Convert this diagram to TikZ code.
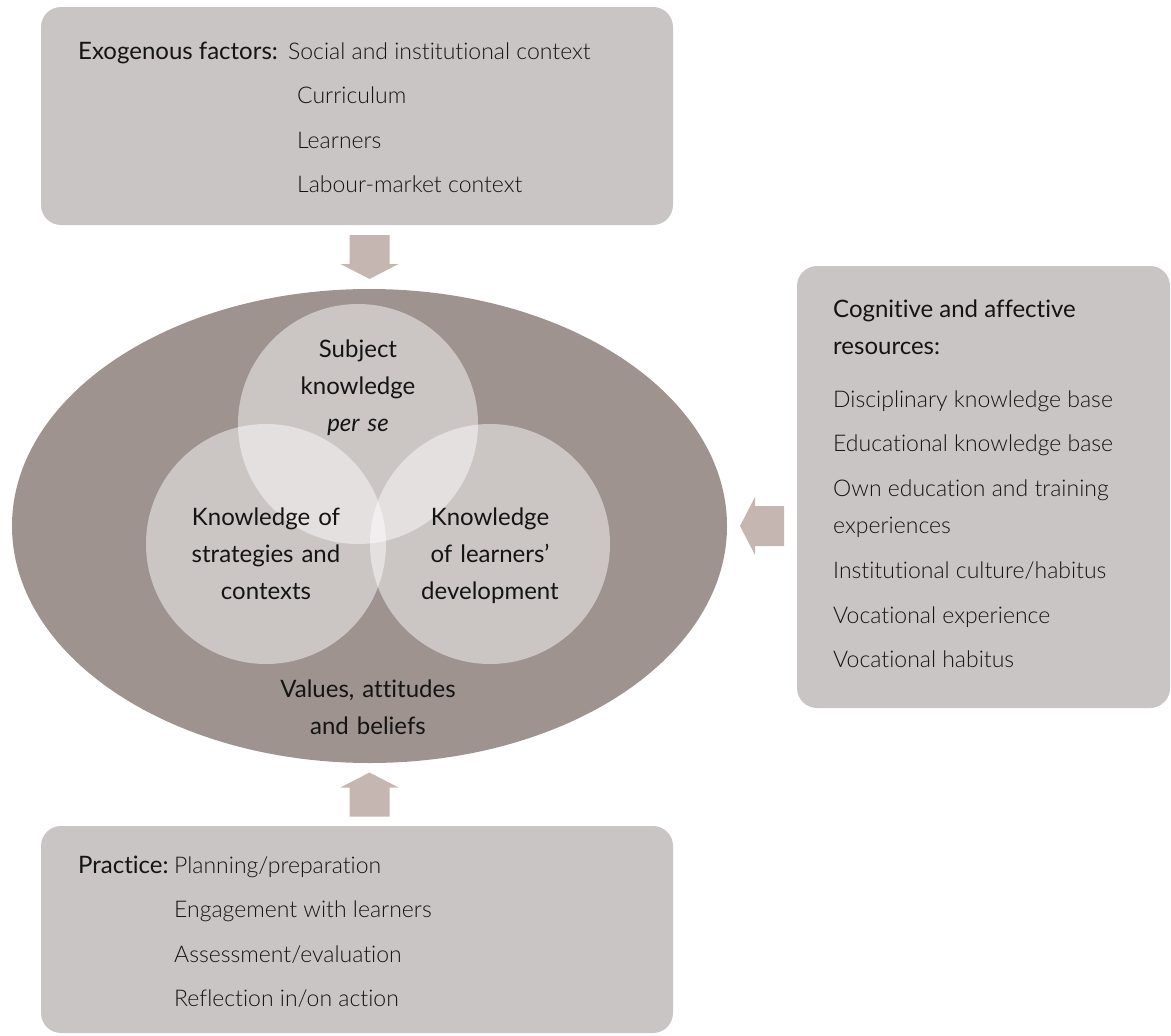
\documentclass[tikz,border=0pt]{standalone}
\usepackage{fontspec}
\setmainfont{Lato}[Ligatures=NoCommon]
\newfontfamily\lightfont{Lato Light}[Ligatures=NoCommon]
\usetikzlibrary{shapes.geometric,positioning,calc}

\definecolor{boxgray}{RGB}{201,197,196}
\definecolor{ellgray}{RGB}{158,147,143}
\definecolor{arrowpink}{RGB}{197,182,178}
\definecolor{txtblack}{RGB}{20,20,20}

\begin{document}
\begin{tikzpicture}[
            x=1pt, y=-1pt,
            panel/.style={fill=boxgray, rounded corners=20pt, inner sep=0pt},
            outer/.style={ellipse, fill=ellgray, minimum width=715pt, minimum height=474pt, inner sep=0pt},
            bubble/.style={circle, fill=white, fill opacity=0.47, minimum size=240pt, inner sep=0pt},
            headtext/.style={font=\fontsize{24}{37}\selectfont, text=txtblack, inner sep=0pt},
            itemtext/.style={font=\lightfont\fontsize{23}{37}\selectfont, text=txtblack, inner sep=0pt},
            ctext/.style={font=\fontsize{24}{37}\selectfont, text=txtblack, align=center, text width=220pt, inner sep=0pt},
            blockarrow/.style={fill=arrowpink}
        ]

        \useasboundingbox (0,0) rectangle (1171,1036);

        % boxes and the central ellipse
        \node[panel, minimum width=632pt, minimum height=218pt] (exobox) at (357,116) {};
        \node[panel, minimum width=373pt, minimum height=442pt] (resbox) at (983.5,487) {};
        \node[panel, minimum width=632pt, minimum height=207pt] (pracbox) at (357,929.5) {};
        \node[outer] (ell) at (369.5,526) {};

        \node[bubble] (subj) at (358,424) {};
        \node[bubble] (strat) at (266,544) {};
        \node[bubble] (learn) at (490,544) {};

        \node[ctext, anchor=base] (subjtxt) at (358,357) {Subject\\knowledge\\\textit{per se}};
        \node[ctext, anchor=base] (strattxt) at (266,525) {Knowledge of\\strategies and\\contexts};
        \node[ctext, anchor=base] (learntxt) at (490,525) {Knowledge\\of learners'\\development};
        \node[ctext, anchor=base] (valtxt) at (368,697) {Values, attitudes\\and beliefs};

        % block arrows between boxes and ellipse
        \coordinate (dnmid) at ($(exobox.south -| ell.north)!.5!(ell.north)$);
        \coordinate (ltmid) at ($(ell.east)!.5!(resbox.west |- ell.east)$);
        \coordinate (upmid) at ($(ell.south)!.5!(pracbox.north -| ell.south)$);
        \foreach \c/\a in {dnmid/-90, ltmid/180, upmid/90}
            \fill[blockarrow, shift={(\c)}, rotate=\a] (-22,-20) -- (7,-20) -- (7,-29) -- (22,0) -- (7,29) -- (7,20) -- (-22,20) -- cycle;

        % exogenous factors
        \node[headtext, anchor=base west] (exo) at (78,59) {Exogenous factors:};
        \node[itemtext, anchor=base west] (exo0) at (288,59) {Social and institutional context};
        \foreach \txt [count=\i] in {Curriculum, Learners, {Labour-market context}}
            \node[itemtext, anchor=base west] (exo\i) at (297,59+44.5*\i) {\txt};

        % cognitive and affective resources
        \node[headtext, anchor=base west] (res) at (833,317) {Cognitive and affective};
        \node[headtext, anchor=base west] (res0) at (833,354) {resources:};
        \foreach \y/\txt [count=\i] in {407/{Disciplinary knowledge base}, 451/{Educational knowledge base},
                496/{Own education and training}, 533/{experiences}, 578/{Institutional culture/habitus},
                623/{Vocational experience}, 667/{Vocational habitus}}
            \node[itemtext, anchor=base west] (res\i) at (833,\y) {\txt};

        % practice
        \node[headtext, anchor=base west] (prac) at (78,873) {Practice:};
        \node[itemtext, anchor=base west] (prac0) at (174,873) {Planning/preparation};
        \foreach \txt [count=\i] in {{Engagement with learners}, {Assessment/evaluation}, {Reflection in/on action}}
            \node[itemtext, anchor=base west] (prac\i) at (174,873+44.5*\i) {\txt};

    \end{tikzpicture}
\end{document}
